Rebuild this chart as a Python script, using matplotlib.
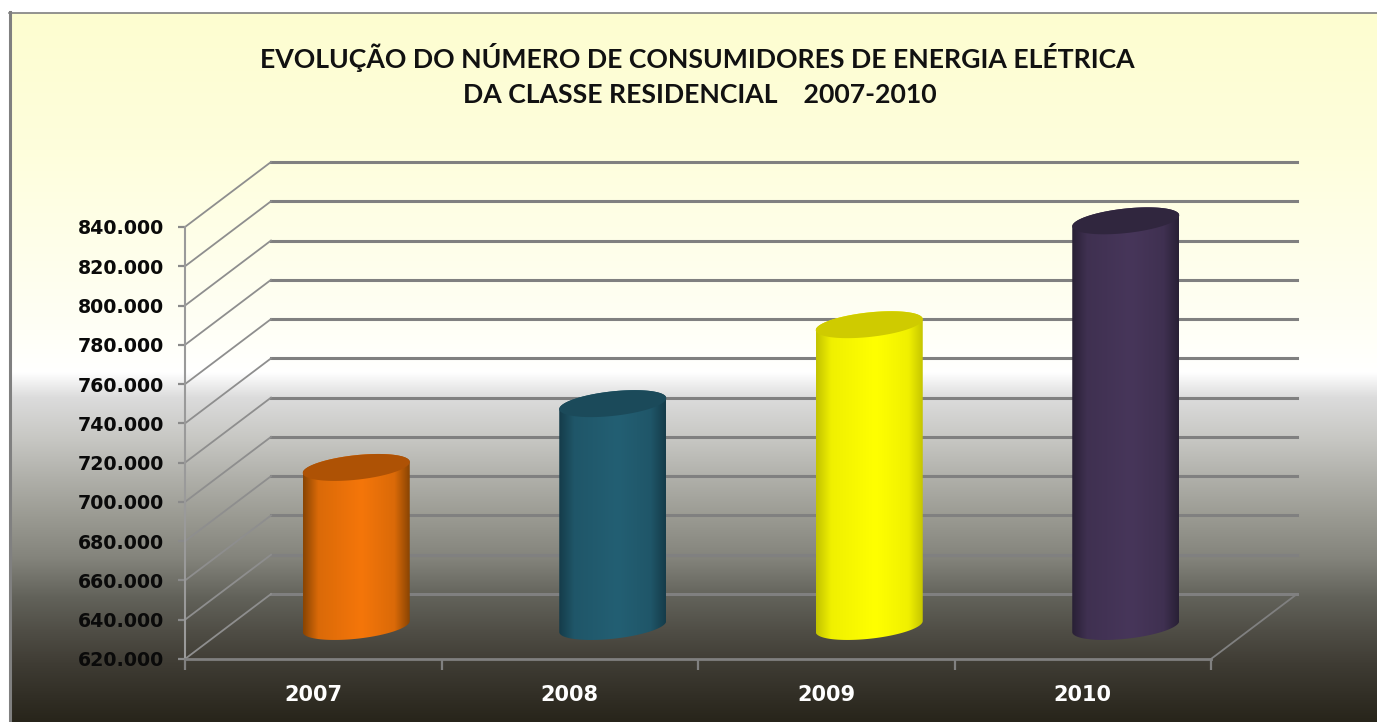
import numpy as np
import matplotlib
matplotlib.use("Agg")
import matplotlib.pyplot as plt
from matplotlib.colors import to_rgb
from matplotlib.patches import Polygon

years = ["2007", "2008", "2009", "2010"]
consumers = [701000, 733500, 773700, 826600]
tick_values = [620000, 640000, 660000, 680000, 700000, 720000, 740000, 760000, 780000, 800000, 820000, 840000]
tick_labels = ["620.000", "640.000", "660.000", "680.000", "700.000", "720.000", "740.000", "760.000", "780.000", "800.000", "820.000", "840.000"]
# edge, middle, top colour of each cylinder
edge_colors = ["#8a4503", "#153c4a", "#c4c400", "#292036"]
mid_colors = ["#f5760a", "#235f73", "#ffff00", "#47365a"]
top_colors = ["#ae5205", "#1b4a5a", "#cfcb00", "#30263e"]

W, H = 1377, 722
fig = plt.figure(figsize=(W/100, H/100), dpi=100, facecolor="white")

# background gradient
bg = fig.add_axes([0, 0, 1, 1], zorder=0)
bg.axis("off")
stop_y = [13, 150, 330, 372, 397, 437, 477, 517, 557, 597, 630, 663, 722]
stop_c = ["#fdfdd0", "#fefedc", "#fffff6", "#ffffff", "#dcdcdc", "#c8c8c4", "#b0b0aa", "#9a9a92", "#84847c", "#62625a", "#504e46", "#3f3c34", "#27241a"]
rows = np.arange(13, H)
grad = np.stack([np.interp(rows, stop_y, [to_rgb(c)[k] for c in stop_c]) for k in range(3)], axis=1)
bg.imshow(grad[:, None, :], extent=[10, W, H, 13], aspect="auto", interpolation="bilinear")
bg.set_xlim(0, W)
bg.set_ylim(H, 0)
bg.plot([9.5, 9.5], [12, H], color="#808080", lw=2.2)
bg.plot([9, W], [12.5, 12.5], color="#808080", lw=1.2)

ax = fig.add_axes([185/W, (H-659)/H, 1026/W, 432/H], zorder=1)
ax.patch.set_alpha(0)
ax.set_xlim(0, 4)
ax.set_ylim(620000, 840000)

# pixels to data units
px_x = 4/1026
px_y = 220000/432
DX = 86*px_x
DY = 65*px_y

for v in tick_values:
    ax.plot([DX, 4+DX], [v+DY, v+DY], color="#808080", lw=2.2, clip_on=False, zorder=1)
    ax.plot([0, DX], [v, v+DY], color="#8e8e8e", lw=1.3, clip_on=False, zorder=1)
ax.plot([4, 4+DX], [620000, 620000+DY], color="#808080", lw=1.3, clip_on=False, zorder=1)

a = 53.5
b = 12.3
s = 5.5

def ell(t, cx, v):
    # right side sits higher, front of the ellipse is lower
    return cx+a*np.cos(t)*px_x, v+(s*np.cos(t)+b*np.sin(t))*px_y

for i in range(len(years)):
    cx = i+0.5+DX/2
    base = 620000+DY/2
    top = consumers[i]+DY/2
    xb, yb = ell(np.linspace(np.pi, 2*np.pi, 60), cx, base)
    xt, yt = ell(np.linspace(0, np.pi, 60), cx, top)
    body = Polygon(np.column_stack([np.r_[xb, xt], np.r_[yb, yt]]), closed=True, fc="none", ec="none", clip_on=False)
    ax.add_patch(body)
    pos = np.linspace(0, 1, 107)
    e = to_rgb(edge_colors[i])
    m = to_rgb(mid_colors[i])
    shade = np.stack([np.interp(pos, [0, 0.14, 0.55, 0.86, 1], [e[k], (e[k]+m[k]*3)/4, m[k], (e[k]+m[k]*3)/4, e[k]]) for k in range(3)], axis=1)
    im = ax.imshow(shade[None, :, :], extent=[cx-a*px_x, cx+a*px_x, base-40*px_y, top+40*px_y], aspect="auto", zorder=3, interpolation="bilinear")
    im.set_clip_box(fig.bbox)
    im.set_clip_path(body)
    xa, ya = ell(np.linspace(0, 2*np.pi, 120), cx, top)
    ax.add_patch(Polygon(np.column_stack([xa, ya]), closed=True, fc=top_colors[i], ec="none", zorder=4, clip_on=False))

ax.set_xlim(0, 4)
ax.set_ylim(620000, 840000)

for side in ["top", "right"]:
    ax.spines[side].set_visible(False)
ax.spines["left"].set_color("#9a9a9a")
ax.spines["left"].set_linewidth(1.5)
ax.spines["bottom"].set_color("#808080")
ax.spines["bottom"].set_linewidth(2)

ax.set_yticks(tick_values)
ax.set_yticklabels(tick_labels, fontsize=13.7, fontweight="bold", color="#0a0a0a", family="DejaVu Sans")
ax.tick_params(axis="y", length=5, width=1.6, color="#8a8a8a", pad=10)
ax.set_xticks(range(5))
ax.set_xticklabels([])
ax.set_xticks(np.arange(len(years))+0.5, minor=True)
ax.set_xticklabels(years, minor=True, fontsize=15, fontweight="bold", color="white", family="DejaVu Sans")
ax.tick_params(axis="x", which="major", length=8, width=1.6, color="#808080")
ax.tick_params(axis="x", which="minor", length=0, pad=19)

fig.text(697/W, 1-57/H, "EVOLUÇÃO DO NÚMERO DE CONSUMIDORES DE ENERGIA ELÉTRICA", ha="center", va="center", fontsize=19.15, family="Lato", fontweight="bold", color="#111111")
fig.text(700/W, 1-95/H, "DA CLASSE RESIDENCIAL    2007-2010", ha="center", va="center", fontsize=19.15, family="Lato", fontweight="bold", color="#111111")

fig.savefig("out.png", dpi=100)
